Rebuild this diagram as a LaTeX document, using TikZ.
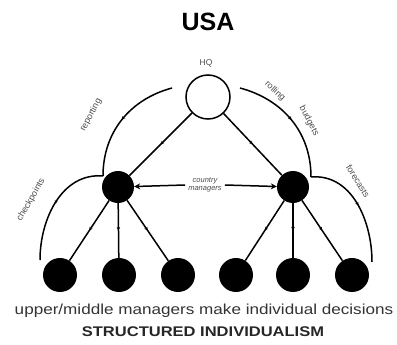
\documentclass[tikz,border=0pt]{standalone}
\usepackage{fontspec}
\setmainfont{Liberation Sans}
\usetikzlibrary{decorations.markings,arrows.meta}
\begin{document}
\begin{tikzpicture}[x=1pt,y=-1pt,
  blk/.style={circle,fill=black,inner sep=0pt,minimum size=32pt},
  hq/.style={circle,draw=black,line width=1.5pt,fill=white,inner sep=0pt,minimum size=44pt},
  conn/.style={line width=1.5pt,postaction={decorate},decoration={markings,mark=at position 0.5 with {\arrow{Stealth[length=3.5pt,width=3.5pt]}}}},
  arc/.style={line width=1.5pt,postaction={decorate},decoration={markings,mark=at position 0.5 with {\arrow{Stealth[length=3.5pt,width=3.5pt]}}}},
  lbl/.style={font=\fontsize{9}{10}\selectfont,text=black!70,inner sep=0pt},
  harrow/.style={line width=1.5pt,-{Stealth[length=6pt,width=6pt]}}
]
\useasboundingbox (0,0) rectangle (397,345);
\node[font=\fontsize{25}{26}\selectfont\bfseries] (title) at (208,22) {USA};
\node[lbl,font=\fontsize{8.5}{9}\selectfont] (hqlbl) at (206,63) {HQ};
\node[hq] (HQ) at (208,97) {};
\node[blk] (L) at (118,187) {};
\node[blk] (R) at (293,187) {};
\node[blk,minimum size=34pt] (B1) at (60,275) {};
\node[blk,minimum size=34pt] (B2) at (119,275) {};
\node[blk,minimum size=34pt] (B3) at (178,275) {};
\node[blk,minimum size=34pt] (B4) at (236,275) {};
\node[blk,minimum size=34pt] (B5) at (293,275) {};
\node[blk,minimum size=34pt] (B6) at (352,275) {};
\draw[conn] (HQ) -- (L);
\draw[conn] (HQ) -- (R);
\foreach \b in {B1,B2,B3} \draw[conn] (L) -- (\b);
\foreach \b in {B4,B5,B6} \draw[conn] (R) -- (\b);
% country managers
\node[lbl,align=center,font=\fontsize{7.5}{7.5}\selectfont\itshape] (cm) at (205,185) {country\\managers};
\draw[harrow] (cm.west) ++(-3,0) coordinate (cmw) -- (L);
\draw[harrow] (cm.east) ++(3,0) coordinate (cme) -- (R);
% arcs
\coordinate (a1s) at (172,88);
\coordinate (lj) at (103,176);
\coordinate (a2e) at (40,260);
\coordinate (a3s) at (240,88);
\coordinate (rj) at (311,177);
\coordinate (a4e) at (372,262);
\draw[arc] (a1s) to[out=195,in=90] (lj);
\draw[arc] (lj) to[out=175,in=90] (a2e);
\draw[arc] (a3s) to[out=-15,in=90] (rj);
\draw[arc] (rj) to[out=5,in=90] (a4e);
\node[lbl,rotate=62] (rep) at (91,115) {reporting};
\node[lbl,rotate=60] (chk) at (31,200) {checkpoints};
\node[lbl,rotate=-42] (rol) at (275,91) {rolling};
\node[lbl,rotate=-62] (bud) at (309,121) {budgets};
\node[lbl,rotate=-58] (for) at (358,181) {forecasts};
% bottom text
\node[inner sep=0pt,font=\fontsize{14.5}{15}\selectfont,text=black!80] (t1) at (204,311) {\scalebox{1.18}[1]{upper/middle managers make individual decisions}};
\node[inner sep=0pt,font=\fontsize{14}{15}\selectfont\bfseries,text=black!85] (t2) at (203,332) {\scalebox{1.18}[1]{STRUCTURED INDIVIDUALISM}};
\end{tikzpicture}
\end{document}
